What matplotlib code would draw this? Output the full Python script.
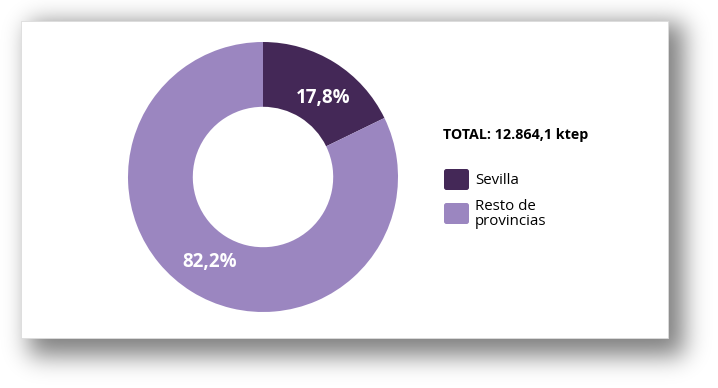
import numpy as np
import matplotlib
matplotlib.use("Agg")
import matplotlib.pyplot as plt
from matplotlib.patches import Rectangle, FancyBboxPatch

categories = ["Sevilla", "Resto de\nprovincias"]
values = [17.8, 82.2]
colors = ["#442857", "#9b86c0"]
total_label = "TOTAL: 12.864,1 ktep"

W, H = 718, 388
fig = plt.figure(figsize=(W / 100, H / 100), dpi=100)
fig.patch.set_facecolor("white")
plt.rcParams["font.family"] = ["Open Sans", "DejaVu Sans"]

# background axes in pixel coords (y downward)
bg = fig.add_axes([0, 0, 1, 1])
bg.axis("off")

# shadow
card = (21, 21, 668, 338)
mask = np.zeros((H, W))
mask[21 + 2:338 + 18, 21 + 8:668 + 16] = 1.0
sigma = 12.0
k = np.arange(-45, 46)
g = np.exp(-k ** 2 / (2 * sigma ** 2))
g /= g.sum()
mask = np.apply_along_axis(lambda r: np.convolve(r, g, mode="same"), 1, mask)
mask = np.apply_along_axis(lambda c: np.convolve(c, g, mode="same"), 0, mask)
rgba = np.zeros((H, W, 4))
rgba[..., 3] = mask * 0.5
bg.imshow(rgba, extent=(0, W, H, 0), interpolation="bilinear", zorder=1)
bg.set_xlim(0, W)
bg.set_ylim(H, 0)
bg.add_patch(Rectangle((card[0], card[1]), card[2] - card[0], card[3] - card[1],
                       facecolor="white", edgecolor="#dcdcdc", lw=0.6, zorder=2))

# legend / total text
bg.text(443, 135, total_label, fontsize=10.3, fontweight="bold", color="black",
        va="center", ha="left", zorder=3)
box_y = [168, 202]
for i, col in enumerate(colors):
    bg.add_patch(FancyBboxPatch((444, box_y[i] + 1), 25, 21,
                                boxstyle="round,pad=0,rounding_size=2.5",
                                facecolor=col, edgecolor="none", zorder=3))
for i, cat in enumerate(categories):
    bg.text(475, box_y[i] + 12, cat, fontsize=10.8, fontweight="medium",
            color="black", va="center", ha="left", zorder=3, linespacing=1.0)

# donut
cx, cy, R = 263, 177, 135
ax = fig.add_axes([(cx - R) / W, (H - cy - R) / H, 2 * R / W, 2 * R / H])
ax.set_zorder(5)
wedges, texts, autotexts = ax.pie(
    values, colors=colors, startangle=90, counterclock=False, radius=1,
    wedgeprops=dict(width=0.48, edgecolor="none"),
    autopct=lambda p: f"{p:.1f}%".replace(".", ","), pctdistance=0.74,
    textprops=dict(color="white", fontsize=13.5, fontweight="bold"))
# nudge the small-slice label slightly clockwise, as in the reference
w0 = wedges[0]
ang = np.deg2rad((w0.theta1 + w0.theta2) / 2 - 5)
autotexts[0].set_position((0.735 * np.cos(ang), 0.735 * np.sin(ang)))
ax.set_xlim(-1, 1)
ax.set_ylim(-1, 1)
ax.set_aspect("equal")
ax.axis("off")

fig.savefig("out.png", dpi=100, facecolor="white")
